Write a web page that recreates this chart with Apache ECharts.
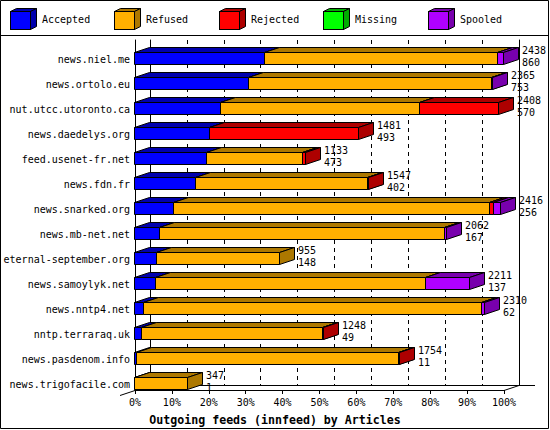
<!DOCTYPE html>
<html><head><meta charset="utf-8">
<script src="https://cdn.jsdelivr.net/npm/echarts@6/dist/echarts.min.js"></script>
<style>html,body{margin:0;padding:0;background:#fff}#c{width:550px;height:430px}</style>
</head><body><div id="c"></div>
<script>
// ---- data ----
const categories = ['news.niel.me','news.ortolo.eu','nut.utcc.utoronto.ca','news.daedelys.org','feed.usenet-fr.net','news.fdn.fr','news.snarked.org','news.mb-net.net','eternal-september.org','news.samoylyk.net','news.nntp4.net','nntp.terraraq.uk','news.pasdenom.info','news.trigofacile.com'];
const totals   = [2438, 2365, 2408, 1481, 1133, 1547, 2416, 2062, 955, 2211, 2310, 1248, 1754, 347];
const accepted = [860, 753, 570, 493, 473, 402, 256, 167, 148, 137, 62, 49, 11, 1];
const refused  = [1538, 1604, 1313, 0, 640, 1138, 2092, 1884, 807, 1788, 2233, 1195, 1734, 346];
const rejected = [0, 0, 525, 988, 20, 7, 22, 0, 0, 0, 0, 4, 9, 0];
const missing  = [0, 0, 0, 0, 0, 0, 0, 0, 0, 0, 0, 0, 0, 0];
const spooled  = [40, 8, 0, 0, 0, 0, 46, 11, 0, 286, 15, 0, 0, 0];
const statusNames = ['Accepted','Refused','Rejected','Missing','Spooled'];
const xTitle = 'Outgoing feeds (innfeed) by Articles';

// ---- style ----
const frontColors = ['#0000FF','#FFB000','#FF0000','#00FF00','#B000FF'];
const darkColors  = ['#0000AD','#AD7800','#AD0000','#00AD00','#7800AD'];
const FONT = '"DejaVu Sans Mono", "Liberation Mono", monospace';
const FS = 10;
const DX = 15, DY = 5, FRONT_H = 12;
const legendLefts = [10, 114, 219, 323, 428];

const statusValues = [accepted, refused, rejected, missing, spooled];
const maxTotal = Math.max(...totals);
const pct = v => v / maxTotal * 100;
const px = v => Math.round(v) + 0.5;

function boxRenderer(front, dark) {
  return function (params, api) {
    const a = api.value(0), b = api.value(1), row = api.value(2);
    if (b - a <= 0) return null;
    const p0 = api.coord([a, row]);
    const p1 = api.coord([b, row]);
    const band = api.size([0, 1])[1];
    const yB = px(p0[1] + band / 2) - 1;
    const yT = yB - FRONT_H;
    const x0 = px(p0[0]) - 1, x1 = Math.max(px(p1[0]) - 1, x0 + 1);
    const ln = { stroke: '#000', lineWidth: 1 };
    return { type: 'group', children: [
      { type: 'polygon', shape: { points: [[x0, yT], [x0 + DX, yT - DY], [x1 + DX, yT - DY], [x1, yT]] }, style: Object.assign({ fill: dark }, ln) },
      { type: 'polygon', shape: { points: [[x1, yT], [x1 + DX, yT - DY], [x1 + DX, yB - DY], [x1, yB]] }, style: Object.assign({ fill: dark }, ln) },
      { type: 'rect', shape: { x: x0, y: yT, width: x1 - x0, height: yB - yT }, style: Object.assign({ fill: front }, ln) }
    ]};
  };
}

function cubeIcon(front, dark) {
  const svg = '<svg xmlns="http://www.w3.org/2000/svg" width="27" height="22" viewBox="0 0 27 22">' +
    '<polygon points="0.5,3.5 6.5,0.5 26.5,0.5 20.5,3.5" fill="' + dark + '" stroke="#000" stroke-width="1"/>' +
    '<polygon points="20.5,3.5 26.5,0.5 26.5,18.5 20.5,21.5" fill="' + dark + '" stroke="#000" stroke-width="1"/>' +
    '<rect x="0.5" y="3.5" width="20" height="18" fill="' + front + '" stroke="#000" stroke-width="1"/></svg>';
  return 'image://data:image/svg+xml;charset=utf-8,' + encodeURIComponent(svg);
}

const series = [];
const cum = totals.map(() => 0);
statusNames.forEach((name, s) => {
  const data = categories.map((c, i) => {
    const start = cum[i];
    cum[i] += statusValues[s][i];
    return [pct(start), pct(cum[i]), i];
  });
  series.push({
    name: name, type: 'custom', xAxisIndex: 0, yAxisIndex: 0,
    renderItem: boxRenderer(frontColors[s], darkColors[s]),
    encode: { x: [0, 1], y: 2 }, data: data, color: frontColors[s], silent: true
  });
});
series.push({
  name: 'labels', type: 'custom', xAxisIndex: 0, yAxisIndex: 0, silent: true,
  encode: { x: 0, y: 1 },
  data: categories.map((c, i) => [pct(totals[i]), i, totals[i], accepted[i]]),
  renderItem: function (params, api) {
    const p = api.coord([api.value(0), api.value(1)]);
    return { type: 'text', x: Math.round(p[0]) + DX + 3, y: Math.round(p[1]) - 9,
      style: { text: api.value(2) + '\n' + api.value(3), fill: '#000', fontFamily: FONT, fontSize: FS, lineHeight: 12, verticalAlign: 'top', align: 'left' } };
  }
});

const chart = echarts.init(document.getElementById('c'), null, { renderer: 'svg' });
chart.setOption({
  animation: false,
  backgroundColor: '#fff',
  title: { text: xTitle, left: 'center', top: 409, textStyle: { fontFamily: FONT, fontWeight: 'bold', fontSize: 11.6, color: '#000' } },
  legend: statusNames.map((n, i) => ({
    data: [{ name: n, icon: cubeIcon(frontColors[i], darkColors[i]) }],
    left: legendLefts[i], top: 8, itemWidth: 27, itemHeight: 22, itemGap: 0, padding: 0,
    selectedMode: false, textStyle: { fontFamily: FONT, fontSize: FS, color: '#000' }
  })),
  grid: [
    { left: 135, right: 46, top: 40, bottom: 40, containLabel: false, outerBoundsMode: 'none' },
    { left: 150, right: 31, top: 40, bottom: 45, containLabel: false, outerBoundsMode: 'none' }
  ],
  xAxis: [
    { type: 'value', gridIndex: 0, min: 0, max: 100, interval: 10,
      axisLine: { show: true, lineStyle: { color: '#000', width: 1 } },
      axisTick: { show: true, length: 4, lineStyle: { color: '#000' } },
      axisLabel: { formatter: '{value}%', color: '#000', fontFamily: FONT, fontSize: FS, margin: 7 },
      splitLine: { show: false } },
    { type: 'value', gridIndex: 1, min: 0, max: 100, interval: 10,
      axisLine: { show: false }, axisTick: { show: false }, axisLabel: { show: false },
      splitLine: { show: true, lineStyle: { color: '#000', width: 1, type: [4, 4] } } }
  ],
  yAxis: [
    { type: 'category', gridIndex: 0, data: categories, inverse: true,
      axisLine: { show: true, lineStyle: { color: '#000' } }, axisTick: { show: false },
      axisLabel: { color: '#000', fontFamily: FONT, fontSize: FS, margin: 5, verticalAlign: 'top', lineHeight: 13 },
      splitLine: { show: false } },
    { type: 'value', gridIndex: 1, min: 0, max: 1, position: 'left',
      axisLine: { show: true, lineStyle: { color: '#000' } }, axisTick: { show: false }, axisLabel: { show: false }, splitLine: { show: false } },
    { type: 'value', gridIndex: 1, min: 0, max: 1, position: 'right',
      axisLine: { show: true, lineStyle: { color: '#000' } }, axisTick: { show: false }, axisLabel: { show: false }, splitLine: { show: false } }
  ],
  graphic: [
    { type: 'rect', z: 0, shape: { x: 0.5, y: 0.5, width: 548, height: 428 }, style: { fill: null, stroke: '#000', lineWidth: 1 } },
    { type: 'line', z: 0, shape: { x1: 0, y1: 35.5, x2: 549, y2: 35.5 }, style: { stroke: '#000', lineWidth: 1 } },
    { type: 'polyline', z: 0, shape: { points: [[120, 395.5], [150, 385.5], [535, 385.5]] }, style: { stroke: '#000', lineWidth: 1, fill: null } },
    { type: 'line', z: 0, shape: { x1: 504, y1: 390.5, x2: 519, y2: 385.5 }, style: { stroke: '#000', lineWidth: 1 } }
  ],
  series: series
});
</script></body></html>
